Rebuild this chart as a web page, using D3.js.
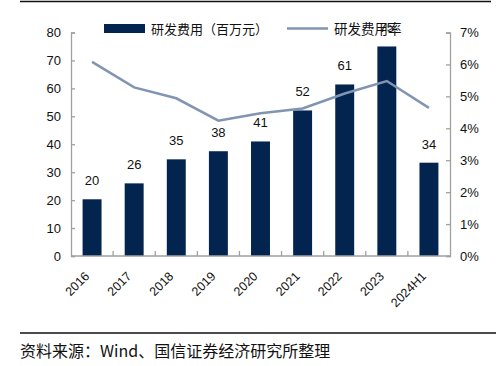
<!DOCTYPE html>
<html>
<head>
<meta charset="utf-8">
<script src="https://cdn.jsdelivr.net/npm/d3@7"></script>
<style>
  body { margin: 0; background: #fff; }
  svg { display: block; }
</style>
</head>
<body>
<div id="chart"></div>
<script>
const years = ["2016", "2017", "2018", "2019", "2020", "2021", "2022", "2023", "2024H1"];
const rdExpense = [20.3, 26, 34.6, 37.5, 41, 52.1, 61.4, 75, 33.4];
const rdLabels = ["20", "26", "35", "38", "41", "52", "61", "75", "34"];
const rdRate = [6.08, 5.28, 4.94, 4.24, 4.47, 4.62, 5.09, 5.48, 4.64];
const leftTicks = [0, 10, 20, 30, 40, 50, 60, 70, 80];
const rightTicks = [0, 1, 2, 3, 4, 5, 6, 7];

const w = 498;
const h = 366;
const plotLeft = 71, plotRight = 450, plotTop = 32.5, plotBottom = 256;
const barColor = "#03244f";
const lineColor = "#8195b3";
const axisColor = "#a0a0a0";
const numFont = "'Liberation Sans', Arial, sans-serif";
const cjkFont = "'Noto Sans CJK SC', sans-serif";

const svg = d3.select("#chart").append("svg")
  .attr("width", w)
  .attr("height", h);

const x = d3.scaleBand()
  .domain(years)
  .range([plotLeft, plotRight])
  .paddingInner(0.55)
  .paddingOuter(0.275);

const yLeft = d3.scaleLinear().domain([0, 80]).range([plotBottom, plotTop]);
const yRight = d3.scaleLinear().domain([0, 7]).range([plotBottom, plotTop]);

// top and bottom rules
svg.append("line")
  .attr("x1", 20).attr("x2", 491).attr("y1", 1.5).attr("y2", 1.5)
  .attr("stroke", "#111").attr("stroke-width", 1.5);
svg.append("line")
  .attr("x1", 20).attr("x2", 496).attr("y1", 333).attr("y2", 333)
  .attr("stroke", "#111").attr("stroke-width", 1.5);

// bars
svg.selectAll("rect.bar")
  .data(rdExpense)
  .enter()
  .append("rect")
  .attr("class", "bar")
  .attr("x", (d, i) => x(years[i]))
  .attr("y", (d) => yLeft(d))
  .attr("width", x.bandwidth())
  .attr("height", (d) => plotBottom - yLeft(d))
  .attr("fill", barColor);

// left axis
const gl = svg.append("g").attr("transform", `translate(${plotLeft},0)`)
  .call(d3.axisRight(yLeft).tickValues(leftTicks).tickSize(4).tickFormat(""));
gl.selectAll("path, line").attr("stroke", axisColor).attr("stroke-width", 1.3);
svg.selectAll("text.ltick")
  .data(leftTicks)
  .enter()
  .append("text")
  .attr("class", "ltick")
  .attr("x", plotLeft - 10)
  .attr("y", (d) => yLeft(d))
  .attr("dy", "0.36em")
  .attr("text-anchor", "end")
  .attr("font-family", numFont)
  .attr("font-size", 13)
  .attr("fill", "#111")
  .text((d) => d);

// right axis
const gr = svg.append("g").attr("transform", `translate(${plotRight},0)`)
  .call(d3.axisLeft(yRight).tickValues(rightTicks).tickSize(4).tickFormat(""));
gr.selectAll("path, line").attr("stroke", axisColor).attr("stroke-width", 1.3);
svg.selectAll("text.rtick")
  .data(rightTicks)
  .enter()
  .append("text")
  .attr("class", "rtick")
  .attr("x", plotRight + 10)
  .attr("y", (d) => yRight(d))
  .attr("dy", "0.36em")
  .attr("font-family", numFont)
  .attr("font-size", 13)
  .attr("fill", "#111")
  .text((d) => d + "%");

// x axis baseline and ticks between categories
svg.append("line")
  .attr("x1", plotLeft).attr("x2", plotRight).attr("y1", plotBottom).attr("y2", plotBottom)
  .attr("stroke", axisColor).attr("stroke-width", 1.3);
svg.selectAll("line.xtick")
  .data(years.slice(1))
  .enter()
  .append("line")
  .attr("class", "xtick")
  .attr("x1", (d) => x(d) - x.step() * x.paddingInner() / 2)
  .attr("x2", (d) => x(d) - x.step() * x.paddingInner() / 2)
  .attr("y1", plotBottom)
  .attr("y2", plotBottom - 5)
  .attr("stroke", axisColor)
  .attr("stroke-width", 1.3);

svg.selectAll("text.xlabel")
  .data(years)
  .enter()
  .append("text")
  .attr("class", "xlabel")
  .attr("transform", (d) => `translate(${x(d) + x.bandwidth() / 2 - 2},277) rotate(-45)`)
  .attr("text-anchor", "end")
  .attr("font-family", numFont)
  .attr("font-size", 12.5)
  .attr("fill", "#111")
  .text((d) => d);

// line
const line = d3.line()
  .x((d, i) => x(years[i]) + x.bandwidth() / 2)
  .y((d) => yRight(d));
svg.append("path")
  .datum(rdRate)
  .attr("d", line)
  .attr("fill", "none")
  .attr("stroke", lineColor)
  .attr("stroke-width", 2.5);

// legend
svg.append("rect")
  .attr("x", 104).attr("y", 24).attr("width", 41).attr("height", 9)
  .attr("fill", barColor);
svg.append("text")
  .attr("x", 151).attr("y", 33.5)
  .attr("font-family", cjkFont)
  .attr("font-size", 13)
  .attr("fill", "#111")
  .text("研发费用（百万元）");
svg.append("line")
  .attr("x1", 287).attr("x2", 328).attr("y1", 28.5).attr("y2", 28.5)
  .attr("stroke", lineColor).attr("stroke-width", 2.5);
svg.append("text")
  .attr("x", 334).attr("y", 33.5)
  .attr("font-family", cjkFont)
  .attr("font-size", 13.5)
  .attr("fill", "#111")
  .text("研发费用率");

// value labels
svg.selectAll("text.val")
  .data(rdExpense)
  .enter()
  .append("text")
  .attr("class", "val")
  .attr("x", (d, i) => x(years[i]) + x.bandwidth() / 2)
  .attr("y", (d) => yLeft(d) - 14)
  .attr("text-anchor", "middle")
  .attr("font-family", numFont)
  .attr("font-size", 13)
  .attr("fill", "#111")
  .text((d, i) => rdLabels[i]);

// source
svg.append("text")
  .attr("x", 20).attr("y", 357)
  .attr("font-family", cjkFont)
  .attr("font-size", 16)
  .attr("fill", "#111")
  .text("资料来源：Wind、国信证券经济研究所整理");
</script>
</body>
</html>
